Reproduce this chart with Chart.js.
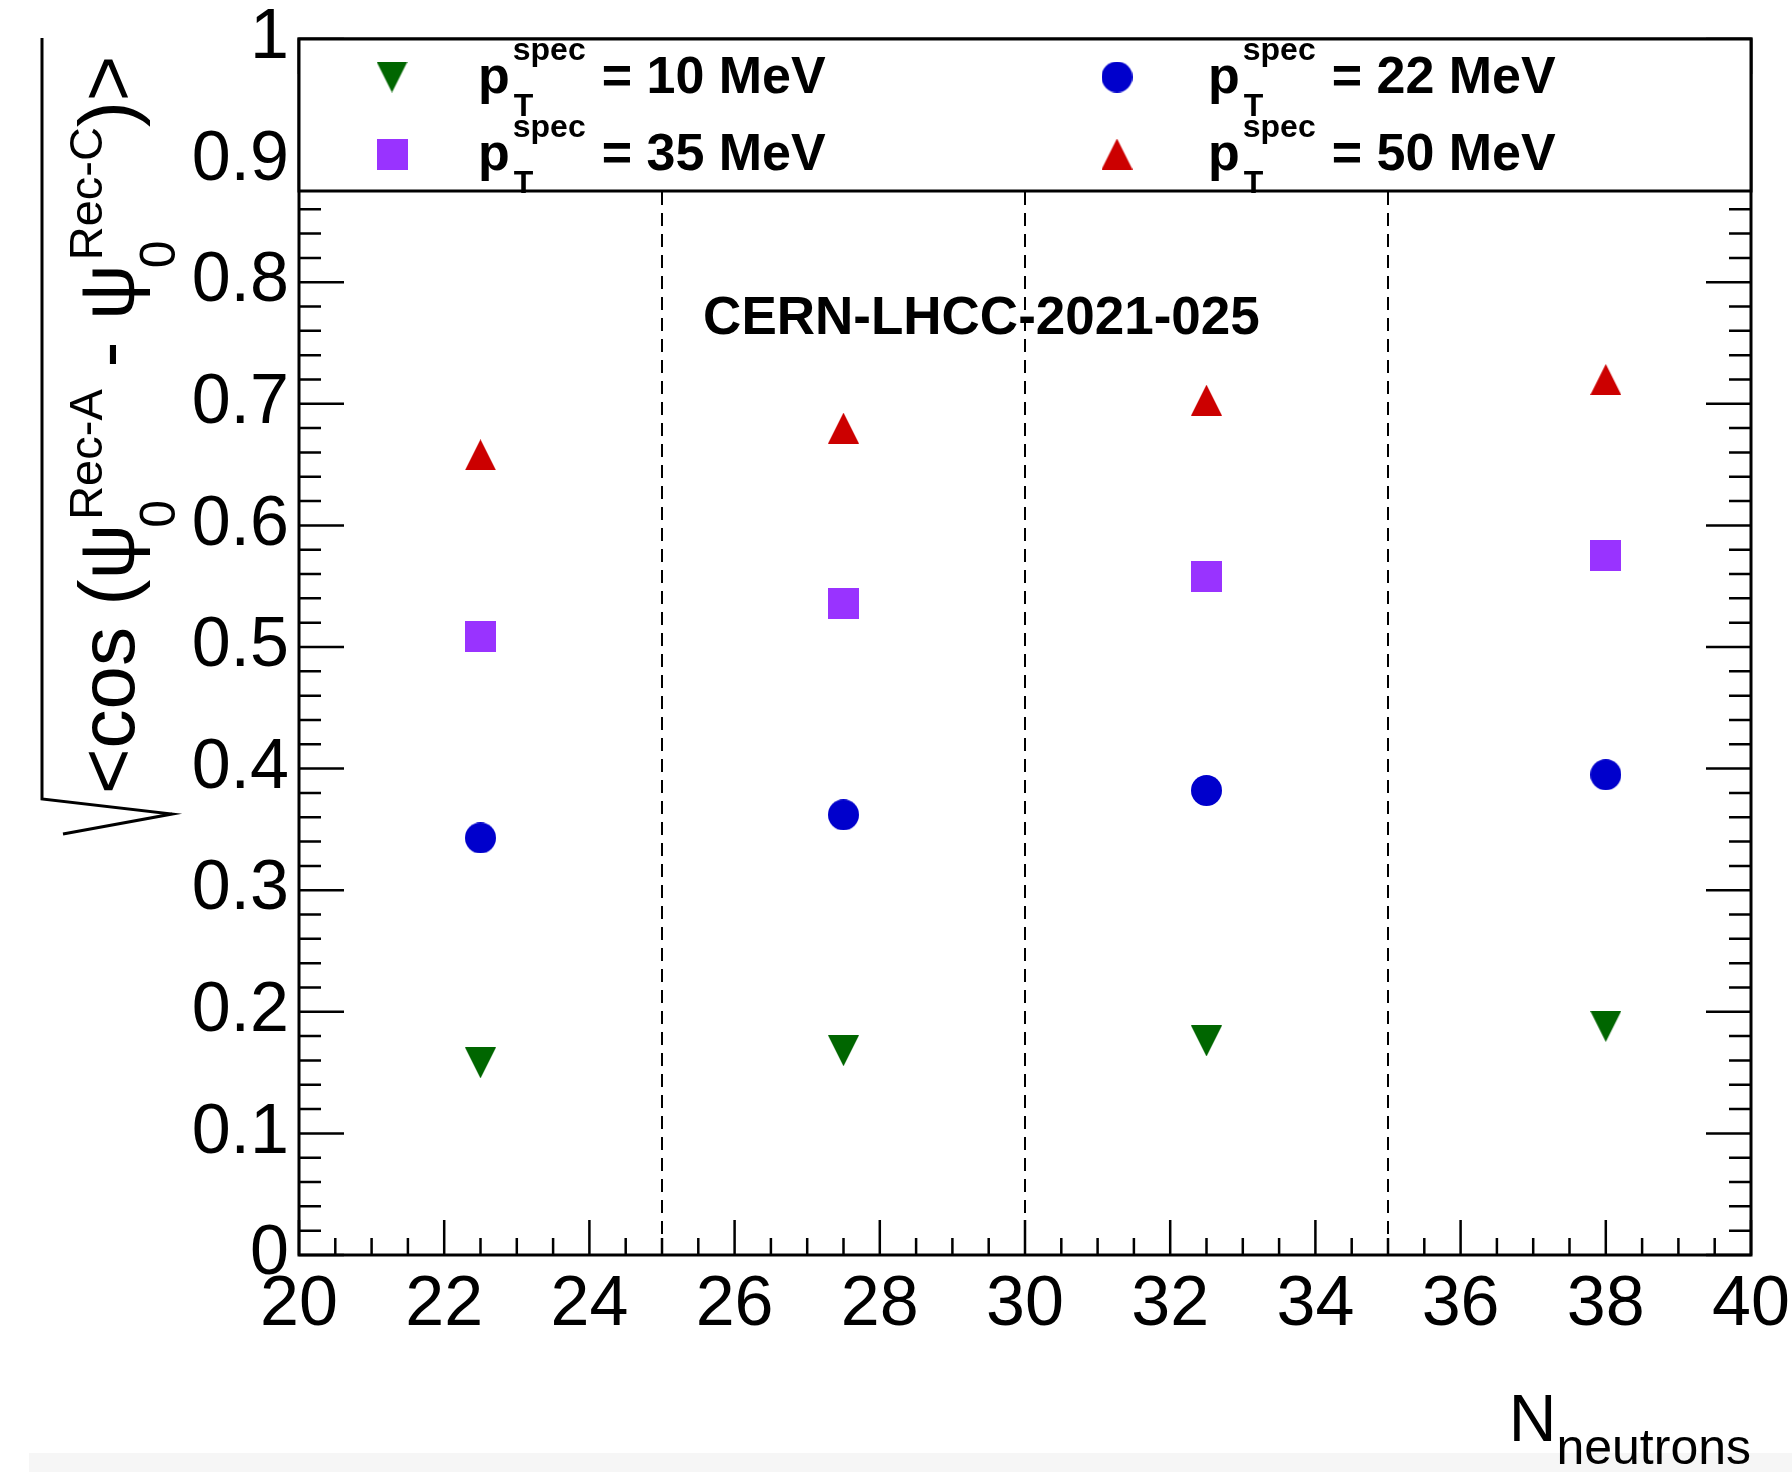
<!DOCTYPE html>
<html>
<head>
<meta charset="utf-8">
<script src="https://cdn.jsdelivr.net/npm/chart.js@4.4.1/dist/chart.umd.min.js"></script>
<style>
  html, body { margin: 0; padding: 0; background: #fff; }
</style>
</head>
<body>
<canvas id="chart" width="1792" height="1472"></canvas>
<script>
// N_neutrons bin centres and resolution for each spectator pT
const nNeutrons = [22.5, 27.5, 32.5, 38];
const res10 = [0.158, 0.168, 0.176, 0.188];
const res22 = [0.343, 0.362, 0.382, 0.395];
const res35 = [0.509, 0.536, 0.558, 0.575];
const res50 = [0.658, 0.680, 0.703, 0.720];
const ptValues = ["10", "22", "35", "50"];
const binEdges = [25, 30, 35];

const FONT = '"Liberation Sans", Arial, Helvetica, sans-serif';

function makeMarker(shape, color) {
    const s = 31;
    const c = document.createElement("canvas");
    c.width = s;
    c.height = s;
    const g = c.getContext("2d");
    g.fillStyle = color;
    g.beginPath();
    if (shape === "up") {
        g.moveTo(s / 2, 0); g.lineTo(s, s); g.lineTo(0, s);
    } else if (shape === "down") {
        g.moveTo(0, 0); g.lineTo(s, 0); g.lineTo(s / 2, s);
    } else if (shape === "square") {
        g.rect(0, 0, s, s);
    } else {
        g.arc(s / 2, s / 2, s / 2, 0, Math.PI * 2);
    }
    g.closePath();
    g.fill();
    return c;
}

const markers = [
    makeMarker("down", "#006600"),
    makeMarker("circle", "#0000cc"),
    makeMarker("square", "#9933ff"),
    makeMarker("up", "#cc0000"),
];

function toPoints(ys) {
    return nNeutrons.map((x, i) => ({ x: x, y: ys[i] }));
}

const series = [res10, res22, res35, res50];

// the frame, inner ticks, bin separators, legend and axis titles
const decorations = {
    id: "decorations",
    beforeDraw(chart) {
        const ctx = chart.ctx;
        ctx.save();
        ctx.fillStyle = "#f6f6f6";
        ctx.fillRect(29, 1453, chart.width - 29, chart.height - 1453);
        ctx.restore();
    },
    beforeDatasetsDraw(chart) {
        const { ctx, chartArea, scales } = chart;
        ctx.save();
        ctx.strokeStyle = "#000";
        ctx.lineWidth = 2;
        ctx.setLineDash([13, 8]);
        binEdges.forEach((edge) => {
            const px = Math.round(scales.x.getPixelForValue(edge));
            ctx.beginPath();
            ctx.moveTo(px, chartArea.bottom);
            ctx.lineTo(px, chartArea.top);
            ctx.stroke();
        });
        ctx.restore();
    },
    afterDatasetsDraw(chart) {
        const { ctx, chartArea, scales } = chart;
        const { left, right, top, bottom } = chartArea;
        ctx.save();
        ctx.strokeStyle = "#000";

        // ticks
        ctx.lineWidth = 2.5;
        ctx.beginPath();
        for (let i = 0; i <= 50; i++) {
            const v = i * 0.02;
            const py = scales.y.getPixelForValue(v);
            const len = i % 5 === 0 ? 45 : 22;
            ctx.moveTo(left, py); ctx.lineTo(left + len, py);
            ctx.moveTo(right, py); ctx.lineTo(right - len, py);
        }
        for (let i = 0; i <= 40; i++) {
            const v = 20 + i * 0.5;
            const px = scales.x.getPixelForValue(v);
            const len = i % 4 === 0 ? 35 : 17;
            ctx.moveTo(px, bottom); ctx.lineTo(px, bottom - len);
            ctx.moveTo(px, top); ctx.lineTo(px, top + len);
        }
        ctx.stroke();

        // frame
        ctx.lineWidth = 3;
        ctx.strokeRect(left, top, right - left, bottom - top);

        // document tag
        ctx.fillStyle = "#000";
        ctx.font = `bold 53px ${FONT}`;
        ctx.textAlign = "center";
        ctx.textBaseline = "alphabetic";
        ctx.fillText("CERN-LHCC-2021-025", scales.x.getPixelForValue(29.4), scales.y.getPixelForValue(0.757));

        // legend box
        const legBottom = 191;
        ctx.fillStyle = "#fff";
        ctx.fillRect(left, top, right - left, legBottom - top);
        ctx.lineWidth = 3;
        ctx.strokeRect(left, top, right - left, legBottom - top);

        ctx.textAlign = "left";
        ctx.fillStyle = "#000";
        const markerX = [392, 1117];
        const textX = [478, 1208];
        const rowMid = [77, 154];
        const rowBase = [93, 170];
        chart.data.datasets.forEach((ds, i) => {
            const col = i % 2;
            const row = Math.floor(i / 2);
            const m = markers[i];
            ctx.drawImage(m, markerX[col] - m.width / 2, rowMid[row] - m.height / 2);
            const bx = textX[col];
            const by = rowBase[row];
            ctx.font = `bold 52px ${FONT}`;
            ctx.fillText("p", bx, by);
            const sx = bx + ctx.measureText("p").width + 3;
            ctx.font = `bold 32px ${FONT}`;
            ctx.fillText("spec", sx, by - 33);
            ctx.fillText("T", sx + 1, by + 23);
            const sw = ctx.measureText("spec").width;
            ctx.font = `bold 52px ${FONT}`;
            ctx.fillText(`= ${ptValues[i]} MeV`, sx + sw + 16, by);
        });

        // x title
        ctx.font = `66px ${FONT}`;
        const wN = ctx.measureText("N").width;
        ctx.font = `50px ${FONT}`;
        const wSub = ctx.measureText("neutrons").width;
        const xStart = right - wSub - wN;
        ctx.font = `66px ${FONT}`;
        ctx.fillText("N", xStart, 1441);
        ctx.font = `50px ${FONT}`;
        ctx.fillText("neutrons", xStart + wN, 1464);

        // y title: sqrt(<cos(psi0^A - psi0^C)>)
        ctx.lineWidth = 3;
        ctx.beginPath();
        ctx.moveTo(42, 38);
        ctx.lineTo(42, 799);
        ctx.lineTo(172, 814);
        ctx.lineTo(63, 834);
        ctx.stroke();

        ctx.translate(134, 794);
        ctx.rotate(-Math.PI / 2);
        const main = `78px ${FONT}`;
        const sup = `47px ${FONT}`;
        const sub = `50px ${FONT}`;
        let x = 0;
        const seg = (t, font, dy, at) => {
            ctx.font = font;
            ctx.fillText(t, at, dy);
            return ctx.measureText(t).width;
        };
        x += seg("<cos (", main, 0, x);
        x += seg("\u03c8", main, 0, x);
        let w1 = seg("0", sub, 41, x - 4);
        let w2 = seg("Rec-A", sup, -32, x + 4);
        x += Math.max(w1 - 4, w2 + 4);
        x += seg(" - ", main, 0, x);
        x += seg("\u03c8", main, 0, x);
        w1 = seg("0", sub, 41, x - 4);
        w2 = seg("Rec-C", sup, -32, x + 4);
        x += Math.max(w1 - 4, w2 + 4);
        seg(")>", main, 0, x);
        ctx.restore();
    },
};

const ctx = document.getElementById("chart");

new Chart(ctx, {
    type: "scatter",
    data: {
        datasets: series.map((ys, i) => ({
            label: `pT spec = ${ptValues[i]} MeV`,
            data: toPoints(ys),
            pointStyle: markers[i],
            pointRadius: 16,
            pointHoverRadius: 16,
            showLine: false,
        })),
    },
    options: {
        responsive: false,
        devicePixelRatio: 1,
        animation: false,
        layout: {
            padding: { left: 0, right: 41, top: 39, bottom: 0 },
        },
        plugins: {
            legend: { display: false },
            tooltip: { enabled: false },
        },
        scales: {
            x: {
                type: "linear",
                min: 20,
                max: 40,
                afterFit(scale) {
                    scale.height = 217;
                    scale.paddingLeft = 0;
                    scale.paddingRight = 0;
                },
                grid: { display: false, drawTicks: false },
                border: { display: false },
                ticks: {
                    stepSize: 2,
                    padding: 9,
                    maxRotation: 0,
                    autoSkip: false,
                    color: "#000",
                    font: { family: FONT, size: 70 },
                },
            },
            y: {
                type: "linear",
                min: 0,
                max: 1,
                afterFit(scale) {
                    scale.width = 299;
                    scale.paddingTop = 0;
                    scale.paddingBottom = 0;
                },
                grid: { display: false, drawTicks: false },
                border: { display: false },
                ticks: {
                    stepSize: 0.1,
                    padding: 10,
                    color: "#000",
                    font: { family: FONT, size: 70 },
                    callback: (v) => String(+v.toFixed(1)),
                },
            },
        },
    },
    plugins: [decorations],
});
</script>
</body>
</html>
